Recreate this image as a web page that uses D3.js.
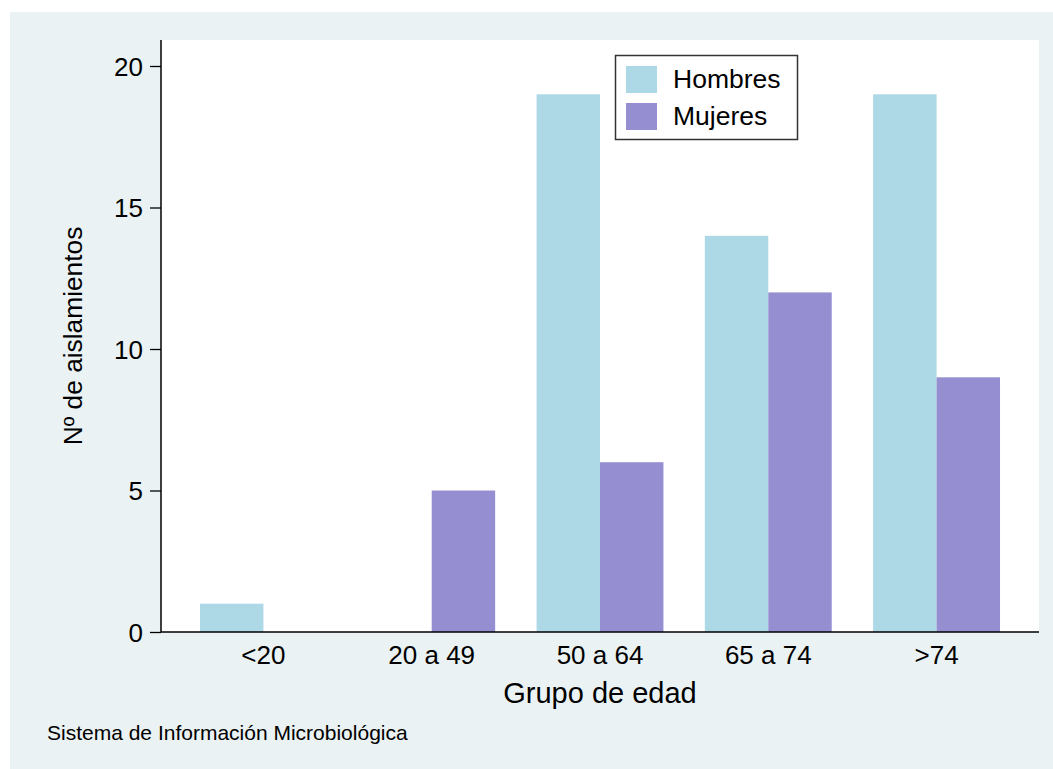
<!DOCTYPE html>
<html>
<head>
<meta charset="utf-8">
<script src="https://cdn.jsdelivr.net/npm/d3@7"></script>
<style>
  html, body { margin: 0; padding: 0; background: #ffffff; }
  svg { display: block; }
  text { font-family: "Liberation Sans", Arial, sans-serif; fill: #000; }
</style>
</head>
<body>
<svg id="chart" width="1053" height="769"></svg>
<script>
const categories = ["<20", "20 a 49", "50 a 64", "65 a 74", ">74"];
const seriesNames = ["Hombres", "Mujeres"];
const hombres = [1, 0, 19, 14, 19];
const mujeres = [0, 5, 6, 12, 9];
const yTicks = [0, 5, 10, 15, 20];
const colors = ["#add8e6", "#958fd1"];
const yTitle = "Nº de aislamientos";
const xTitle = "Grupo de edad";
const source = "Sistema de Información Microbiológica";

const svg = d3.select("#chart");
svg.append("rect").attr("x", 10).attr("y", 12).attr("width", 1043).attr("height", 757).attr("fill", "#eaf2f3");

const plot = { left: 161, right: 1039, top: 40, bottom: 632 };
svg.append("rect").attr("x", plot.left).attr("y", plot.top)
  .attr("width", plot.right - plot.left).attr("height", plot.bottom - plot.top).attr("fill", "#ffffff");

const y = d3.scaleLinear().domain([0, 20]).range([plot.bottom, 66]);
const x0 = d3.scaleBand().domain(categories).range([plot.left, plot.right])
  .paddingInner(0.246).paddingOuter(0.2316);
const x1 = d3.scaleBand().domain(seriesNames).range([0, x0.bandwidth()]);

const data = categories.map((c, i) => ({ cat: c, values: [hombres[i], mujeres[i]] }));

const g = svg.append("g");
data.forEach(d => {
  d.values.forEach((v, j) => {
    if (v > 0) {
      g.append("rect")
        .attr("x", x0(d.cat) + x1(seriesNames[j]))
        .attr("y", y(v))
        .attr("width", x1.bandwidth())
        .attr("height", y(0) - y(v))
        .attr("fill", colors[j]);
    }
  });
});

// Y axis
const yAxis = d3.axisLeft(y).tickValues(yTicks).tickSize(11).tickPadding(7).tickSizeOuter(0);
const ya = svg.append("g").attr("transform", `translate(${plot.left},0)`).call(yAxis);
ya.select(".domain").remove();
ya.selectAll(".tick line").attr("stroke", "#000").attr("stroke-width", 1.3);
ya.selectAll(".tick text").attr("font-size", 26).attr("font-family", "Liberation Sans, Arial, sans-serif").attr("fill", "#000").attr("dy", "0.36em");
svg.append("line").attr("x1", plot.left).attr("x2", plot.left).attr("y1", plot.top).attr("y2", plot.bottom)
  .attr("stroke", "#000").attr("stroke-width", 1.5);

// X axis
const xAxis = d3.axisBottom(x0).tickSize(0).tickPadding(14).tickSizeOuter(0);
const xa = svg.append("g").attr("transform", `translate(0,${plot.bottom})`).call(xAxis);
xa.select(".domain").remove();
xa.selectAll(".tick text").attr("font-size", 26).attr("font-family", "Liberation Sans, Arial, sans-serif").attr("fill", "#000");
svg.append("line").attr("x1", plot.left).attr("x2", plot.right).attr("y1", plot.bottom).attr("y2", plot.bottom)
  .attr("stroke", "#000").attr("stroke-width", 1.5);

// Axis titles
svg.append("text").attr("x", 600).attr("y", 703).attr("text-anchor", "middle")
  .attr("font-size", 29).text(xTitle);
svg.append("text").attr("transform", "translate(82,336) rotate(-90)").attr("text-anchor", "middle")
  .attr("font-size", 26.3).text(yTitle);

// Source
svg.append("text").attr("x", 47).attr("y", 740).attr("font-size", 21).text(source);

// Legend
const leg = svg.append("g");
leg.append("rect").attr("x", 615.5).attr("y", 55.5).attr("width", 182).attr("height", 84)
  .attr("fill", "#fff").attr("stroke", "#333").attr("stroke-width", 1.5);
seriesNames.forEach((s, i) => {
  leg.append("rect").attr("x", 626).attr("y", 66 + i * 37).attr("width", 31).attr("height", 27).attr("fill", colors[i]);
  leg.append("text").attr("x", 673).attr("y", 88 + i * 37).attr("font-size", 26.5).text(s);
});
</script>
</body>
</html>
